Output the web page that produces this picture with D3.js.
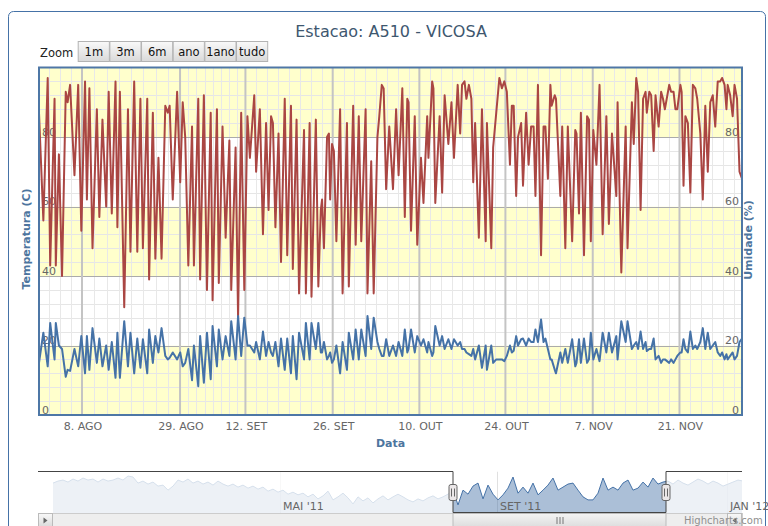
<!DOCTYPE html>
<html><head><meta charset="utf-8">
<script src="https://cdn.jsdelivr.net/npm/d3@7"></script>
<style>
html,body{margin:0;padding:0;background:#fff;overflow:hidden}
svg{display:block;font-family:"DejaVu Sans",Verdana,sans-serif}
</style></head><body>
<svg id="chart" width="768" height="526"></svg>
<script>
// ---------------- DATA ----------------
const titulo = "Estacao: A510 - VICOSA";
const botoesZoom = ["1m","3m","6m","ano","1ano","tudo"];
// ordinal position (days on the Highstock ordinal axis)
const dominioX = [0, 113];
const tickRotulos = ["8. AGO","29. AGO","12. SET","26. SET","10. OUT","24. OUT","7. NOV","21. NOV"];
const tickPosicao = [6.91, 22.67, 33.18, 47.21, 61.14, 74.97, 89.01, 102.95];
const yTicks = [0, 20, 40, 60, 80];

const posicao = [
0.0,0.7,1.4,1.8,2.5,2.7,3.2,3.7,4.3,4.6,5.0,5.7,6.3,6.8,7.4,7.7,8.1,8.6,9.3,9.7,
10.2,10.8,11.2,11.7,12.3,12.6,13.0,13.7,14.3,14.7,15.3,15.8,16.3,16.7,17.4,17.7,18.3,18.7,19.2,19.7,
20.3,20.7,21.0,21.5,
22.2,22.7,23.1,23.5,24.0,24.6,24.9,25.6,25.9,26.5,27.0,27.6,27.9,28.6,28.9,29.5,30.0,30.6,30.9,31.6,
32.0,32.5,33.0,33.5,33.9,34.6,34.9,35.5,36.0,36.5,36.9,37.3,37.6,38.0,38.5,38.9,39.5,39.9,40.5,40.8,
41.4,41.8,42.6,42.9,43.5,43.8,
44.5,44.9,45.3,45.5,45.8,46.3,46.6,46.8,47.1,47.4,47.8,48.4,48.8,49.5,49.8,50.5,50.9,51.4,51.8,52.5,
52.8,53.4,53.8,54.4,54.7,55.1,55.4,55.8,56.3,56.9,57.4,57.8,58.4,58.8,59.2,59.4,59.8,60.4,60.8,61.4,
61.8,62.4,62.6,63.2,63.4,63.7,64.4,64.8,65.2,65.8,66.3,66.7,
67.3,67.7,68.0,68.4,68.7,69.1,69.5,69.8,70.1,70.7,71.2,71.8,72.0,72.7,73.0,73.5,74.0,74.4,74.8,75.2,
75.7,76.0,76.3,76.7,77.0,77.5,77.8,78.3,78.7,79.1,79.5,79.8,80.2,80.7,81.1,81.4,81.8,82.2,82.4,82.9,
83.1,83.8,84.1,84.6,85.0,85.7,86.2,86.4,86.8,87.1,87.6,88.1,88.4,88.7,89.1,
89.6,90.1,90.6,91.2,91.6,92.1,92.8,93.0,93.6,94.3,94.6,95.3,95.6,96.0,96.3,96.7,97.1,97.5,97.7,98.1,
98.4,98.8,99.1,99.6,100.0,100.3,100.6,101.3,101.6,102.0,102.3,102.6,103.1,103.3,103.6,103.9,104.3,104.7,105.1,105.5,
105.8,106.3,106.7,107.1,107.5,107.9,108.3,108.7,109.1,109.5,109.8,110.2,110.5,110.7,111.1,111.5,111.8,112.2,112.6,113.0
];
const umidade = [
87,56,97,43,91,43,75,40,93,90,95,69,95,53,96,62,94,48,88,57,
85,60,93,58,96,54,93,31,88,47,96,47,91,48,91,39,87,45,74,45,
89,87,89,62,
93,67,90,80,43,83,43,91,39,92,36,87,33,88,38,83,51,79,36,77,
28,87,36,86,74,92,70,88,52,84,59,86,84,54,81,44,91,46,89,42,
85,35,82,35,84,34,
85,37,59,62,48,80,81,62,78,76,50,88,35,84,37,89,49,86,50,88,
35,73,35,80,86,95,94,65,83,65,88,69,94,57,91,90,53,86,49,74,
61,86,74,96,94,61,86,64,92,78,90,74,
95,81,95,96,91,95,91,67,84,51,88,50,84,48,77,87,97,94,96,93,
72,89,89,63,80,84,66,87,72,83,83,63,95,46,83,83,68,95,89,92,
91,63,83,48,83,50,82,81,58,87,46,86,85,50,82,
72,95,52,86,55,81,63,90,41,83,48,90,78,97,93,59,91,93,87,93,
92,76,92,83,93,91,88,95,93,93,88,88,95,93,66,86,84,64,95,94,
91,81,62,89,70,90,92,83,96,96,97,95,88,95,92,86,95,91,70,68
];
const temperatura = [
15,23.7,14,26.5,16,26.5,20,19,11,13,12.7,19,14,22.7,12,22.7,13,25,15,22,
14,20,13,21,10.7,23.7,10.7,27,14,23.7,12,22,13.6,21.8,12,24.6,15,22.7,18,25,
17,16,16.5,18,
16,18,14,15,19,10,20,8.3,22.7,9.3,23.7,10.3,25.6,14,24.6,16,22.7,17,27,16,
28.5,17,28,20,20,18,21,16,24,17,21,18,17,21,14,22,13,22,12,22.7,
10.3,23.7,16,26.5,16,26.5,
19,26.5,18,18,21,16,17,18,15,16,20,12,21,13,23.7,16,24.6,16,24.6,17,
28.5,19,28,21,19,17,17,21.8,17,20,17,21,17,24.6,18,19,24.6,18,22.7,20,
21.8,18,21,17,18,25.6,20,22.7,19,21.8,19,21.8,
20,21,19,19,18,17.5,17,19,16,20,13.6,20,13,20,15,16,16,16,15.5,17,
20,18,18.5,22.7,20,21.8,22,20,22,21,21,24.6,21,27.5,21,22,19,16,16,13,
12,18,15,19,15,21.8,14,15,21.8,15,22,15,16,23.7,16,
19,15.5,23.7,18,23.7,18,22.7,16,27,21,27,19,20,21,19,24,19,21,18.4,19,
19,22,16,17,15,16,16,15,16,15,16,17,18,18,21.8,19,18,24,19,20,
19,21,25,19,23.7,19,20,21,18,17,18,16,17.5,16,17,18,16,17,21,22
];

// navigator (full record, temperature)
const navTemp = [
21.3,21.9,22.2,21.6,22.5,21.9,22.8,22.2,22.5,21.6,
22.5,21.9,22.2,22.8,22.2,23.4,23.1,21.3,21.9,21.0,
21.6,20.4,20.7,19.2,20.4,22.2,21.6,22.5,21.3,21.9,
21.0,21.6,20.7,21.9,21.0,20.4,21.0,20.1,20.7,19.8,
20.4,19.5,20.1,18.9,19.5,18.6,19.2,18.0,18.6,17.8,
18.3,17.2,18.0,16.6,17.5,18.9,16.3,17.2,18.3,16.9,
15.1,17.2,16.0,16.9,15.4,16.6,17.5,16.3,17.2,18.0,
17.2,16.3,15.7,16.6,16.0,16.9,17.5,16.6,17.2,18.0,
19.2,14.8,19.2,18.0,20.4,21.3,16.6,20.7,18.0,16.3,
17.8,19.8,23.1,18.3,20.1,18.3,21.3,17.8,19.2,20.7,
22.8,19.2,20.1,21.0,21.3,19.2,17.2,16.3,16.3,18.3,
22.8,19.2,20.1,19.2,21.3,22.2,19.2,19.8,21.6,20.1,
22.8,21.0,21.6,21.9,21.0,22.2,21.3,20.7,21.6,22.5,
21.9,21.0,21.9,21.3,20.4,21.0,21.6,22.2,21.9
];
const navRotulos = ["MAI '11","SET '11","JAN '12"];
const navRotuloPos = [45.4, 88.8, 134.8];
const navSelecao = [80, 122.6];
const navDominioY = [13, 24];

// ---------------- LAYOUT ----------------
const P = {left:39, right:742, top:67.5, bottom:415};
const NAV = {left:38, right:742, top:471.5, bottom:512.5, seriesLeft:53, seriesRight:743};
const svg = d3.select('#chart');
const defs = svg.append('defs');

const gBtn = defs.append('linearGradient').attr('id','gBtn').attr('x1',0).attr('y1',0).attr('x2',0).attr('y2',1);
gBtn.append('stop').attr('offset','0%').attr('stop-color','#f9f9f9');
gBtn.append('stop').attr('offset','100%').attr('stop-color','#d9d9d9');
const gThumb = defs.append('linearGradient').attr('id','gThumb').attr('x1',0).attr('y1',0).attr('x2',0).attr('y2',1);
gThumb.append('stop').attr('offset','0%').attr('stop-color','#f4f4f4');
gThumb.append('stop').attr('offset','100%').attr('stop-color','#dcdcdc');
defs.append('clipPath').attr('id','clipPlot').append('rect')
  .attr('x',P.left).attr('y',P.top).attr('width',P.right-P.left).attr('height',P.bottom-P.top);
defs.append('clipPath').attr('id','clipNav').append('rect')
  .attr('x',NAV.left).attr('y',NAV.top).attr('width',NAV.right-NAV.left).attr('height',NAV.bottom-NAV.top);

// outer frame
svg.append('rect').attr('x',8.5).attr('y',11.5).attr('width',757).attr('height',540).attr('rx',5)
  .attr('fill','#fff').attr('stroke','#4572A7').attr('stroke-width',1);

// title
svg.append('text').attr('x',391).attr('y',36.5).attr('text-anchor','middle')
  .attr('font-size',16).attr('fill','#3E576F').text(titulo);

// range selector
svg.append('text').attr('x',40).attr('y',56.5).attr('font-size',11.5).attr('fill','#222').text('Zoom');
const bx = d3.scaleBand().domain(botoesZoom).range([77.7, 267.7]);
const btn = svg.append('g').selectAll('g').data(botoesZoom).join('g');
btn.append('rect').attr('x',d=>bx(d)+0.5).attr('y',41.5).attr('width',bx.bandwidth()-0.5).attr('height',20)
  .attr('fill','url(#gBtn)').attr('stroke','#b3b3b3');
btn.append('text').attr('x',d=>bx(d)+bx.bandwidth()/2+0.3).attr('y',56).attr('text-anchor','middle')
  .attr('font-size',11.5).attr('fill','#111').text(d=>d);

// scales
const x = d3.scaleLinear().domain(dominioX).range([P.left, P.right]);
const y = d3.scaleLinear().domain([0,100]).range([P.bottom, P.top]);

// alternate bands
svg.append('g').selectAll('rect').data(yTicks).join('rect')
  .attr('x',P.left).attr('width',P.right-P.left)
  .attr('y',d=>y(d+20)).attr('height',d=>y(d)-y(d+20))
  .attr('fill',(d,i)=> i%2===0 ? '#FFFFCC' : '#FFFFFF');

// minor grid
const minorY = d3.range(4,100,4).filter(v=>v%20!==0);
svg.append('g').selectAll('line').data(minorY).join('line')
  .attr('x1',P.left).attr('x2',P.right).attr('y1',d=>Math.round(y(d))+0.5).attr('y2',d=>Math.round(y(d))+0.5)
  .attr('stroke','#E6E6E6').attr('stroke-width',1);
const bounds = tickPosicao;
let minorX = [];
for (let v = bounds[0]-1.75; v > dominioX[0]; v -= 1.75) minorX.push(v);
for (let i=0;i<bounds.length-1;i++){
  const a=bounds[i], b=bounds[i+1], s=(b-a)/8;
  for (let k=1;k<8;k++) minorX.push(a+k*s);
}
for (let v = bounds[bounds.length-1]+1.75; v < dominioX[1]; v += 1.75) minorX.push(v);
svg.append('g').selectAll('line').data(minorX).join('line')
  .attr('y1',P.top).attr('y2',P.bottom).attr('x1',d=>Math.round(x(d))+0.5).attr('x2',d=>Math.round(x(d))+0.5)
  .attr('stroke','#E8E8E8').attr('stroke-width',1);

// major grid
svg.append('g').selectAll('line').data(yTicks.slice(1)).join('line')
  .attr('x1',P.left).attr('x2',P.right).attr('y1',d=>Math.round(y(d))+0.5).attr('y2',d=>Math.round(y(d))+0.5)
  .attr('stroke','#ABABAB').attr('stroke-width',1);
svg.append('g').selectAll('line').data(tickPosicao).join('line')
  .attr('y1',P.top).attr('y2',P.bottom).attr('x1',d=>x(d)).attr('x2',d=>x(d))
  .attr('stroke','#C4C4C4').attr('stroke-width',2);

// y labels (inside plot, both sides)
svg.append('g').selectAll('text').data(yTicks).join('text')
  .attr('x',P.left+3).attr('y',d=>y(d)-1.5).attr('font-size',11).attr('fill','#666').text(d=>d);
svg.append('g').selectAll('text').data(yTicks).join('text')
  .attr('x',P.right-3).attr('y',d=>y(d)-1.5).attr('text-anchor','end').attr('font-size',11).attr('fill','#666').text(d=>d);

// series
const idx = d3.range(posicao.length);
const lineU = d3.line().x(i=>x(posicao[i])).y(i=>y(umidade[i]));
const lineT = d3.line().x(i=>x(posicao[i])).y(i=>y(temperatura[i]));
const gs = svg.append('g').attr('clip-path','url(#clipPlot)');
gs.append('path').attr('d',lineU(idx)).attr('fill','none').attr('stroke','#AA4643')
  .attr('stroke-width',2).attr('stroke-linejoin','round').attr('stroke-linecap','round');
gs.append('path').attr('d',lineT(idx)).attr('fill','none').attr('stroke','#4572A7')
  .attr('stroke-width',2).attr('stroke-linejoin','round').attr('stroke-linecap','round');

// plot border
svg.append('rect').attr('x',P.left).attr('y',P.top).attr('width',P.right-P.left).attr('height',P.bottom-P.top)
  .attr('fill','none').attr('stroke','#4E77A6').attr('stroke-width',2);

// x axis labels
svg.append('g').selectAll('text').data(tickRotulos).join('text')
  .attr('x',(d,i)=>x(tickPosicao[i])+1).attr('y',430).attr('text-anchor','middle')
  .attr('font-size',11).attr('fill','#666').text(d=>d);

// axis titles
svg.append('text').attr('x',390.5).attr('y',447).attr('text-anchor','middle')
  .attr('font-size',11).attr('font-weight','bold').attr('fill','#4D759E').text('Data');
svg.append('text').attr('transform','translate(30,239) rotate(-90)').attr('text-anchor','middle')
  .attr('font-size',11).attr('font-weight','bold').attr('fill','#4D759E').text('Temperatura (C)');
svg.append('text').attr('transform','translate(752,240) rotate(-90)').attr('text-anchor','middle')
  .attr('font-size',11).attr('font-weight','bold').attr('fill','#4D759E').text('Umidade (%)');

// ---------------- NAVIGATOR ----------------
const nx = d3.scaleLinear().domain([0, navTemp.length-1]).range([NAV.seriesLeft, NAV.seriesRight]);
const ny = d3.scaleLinear().domain(navDominioY).range([511, 474]);
const gn = svg.append('g').attr('clip-path','url(#clipNav)');
gn.selectAll('line.g').data(navRotuloPos).join('line')
  .attr('x1',d=>Math.round(nx(d))+0.5).attr('x2',d=>Math.round(nx(d))+0.5).attr('y1',NAV.top).attr('y2',NAV.bottom)
  .attr('stroke','#E0E0E0');
const nIdx = d3.range(navTemp.length);
gn.append('path').attr('d', d3.area().x(i=>nx(i)).y0(NAV.bottom).y1(i=>ny(navTemp[i]))(nIdx))
  .attr('fill','rgba(69,114,167,0.45)');
gn.append('path').attr('d', d3.line().x(i=>nx(i)).y(i=>ny(navTemp[i]))(nIdx))
  .attr('fill','none').attr('stroke','#4572A7').attr('stroke-width',1);
const sx0 = nx(navSelecao[0]), sx1 = nx(navSelecao[1]);
gn.append('rect').attr('x',NAV.left).attr('y',NAV.top).attr('width',sx0-NAV.left).attr('height',NAV.bottom-NAV.top)
  .attr('fill','rgba(255,255,255,0.78)');
gn.append('rect').attr('x',sx1).attr('y',NAV.top).attr('width',NAV.right-sx1).attr('height',NAV.bottom-NAV.top)
  .attr('fill','rgba(255,255,255,0.78)');
// nav labels
svg.append('g').selectAll('text').data(navRotulos).join('text')
  .attr('x',(d,i)=>nx(navRotuloPos[i])+3).attr('y',509.5).attr('font-size',11).attr('fill','#666').text(d=>d);
// outline
svg.append('path')
  .attr('d',`M${NAV.left},${NAV.top}H${sx0}V${NAV.bottom}H${sx1}V${NAV.top}H${NAV.right}`)
  .attr('fill','none').attr('stroke','#444').attr('stroke-width',1);
// scrollbar
const sbY = 513.5, sbH = 14;
svg.append('rect').attr('x',NAV.left+0.5).attr('y',sbY).attr('width',NAV.right-NAV.left).attr('height',sbH)
  .attr('fill','#eeeeee').attr('stroke','#cccccc');
svg.append('rect').attr('x',sx0).attr('y',sbY).attr('width',sx1-sx0).attr('height',sbH)
  .attr('fill','url(#gThumb)').attr('stroke','#bbbbbb');
[-3,0,3].forEach(o=>{
  svg.append('line').attr('x1',(sx0+sx1)/2+o+0.5).attr('x2',(sx0+sx1)/2+o+0.5).attr('y1',517).attr('y2',524)
    .attr('stroke','#777');
});
[[NAV.left+0.5,-1],[NAV.right-14.5,1]].forEach(([bx0,dir])=>{
  svg.append('rect').attr('x',bx0).attr('y',sbY).attr('width',14).attr('height',sbH)
    .attr('fill','url(#gBtn)').attr('stroke','#bbbbbb');
  const cx = bx0+7, cy = sbY+7;
  svg.append('path').attr('d',`M${cx-2*dir},${cy}L${cx+2*dir},${cy-3}L${cx+2*dir},${cy+3}Z`).attr('fill','#666');
});
// handles
[sx0, sx1].forEach(hx=>{
  svg.append('rect').attr('x',hx-4).attr('y',484.5).attr('width',8).attr('height',16).attr('rx',2)
    .attr('fill','#ebe7e8').attr('stroke','#666');
  [-1.5,1.5].forEach(o=>svg.append('line').attr('x1',hx+o).attr('x2',hx+o).attr('y1',488.5).attr('y2',496.5)
    .attr('stroke','#666'));
});
// credits
svg.append('text').attr('x',684).attr('y',524).attr('font-size',10).attr('fill','#909090').text('Highcharts.com');
</script>
</body></html>
